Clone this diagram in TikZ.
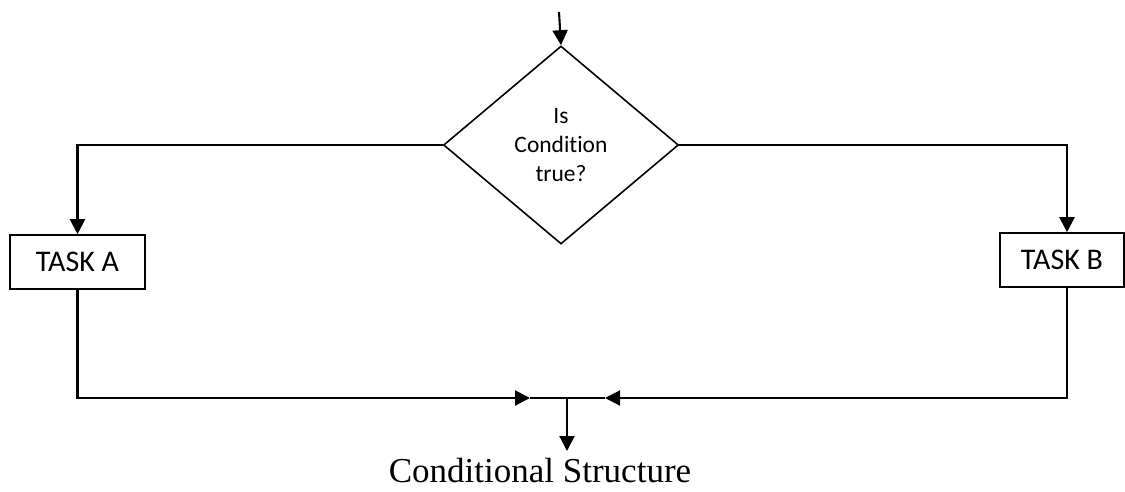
\documentclass[tikz,border=0pt]{standalone}
\usepackage{fontspec}
\setmainfont{Liberation Serif}
\newfontfamily\calibfont[RawFeature=-liga]{Carlito}
\usetikzlibrary{shapes.geometric,arrows.meta,calc}
\begin{document}
\begin{tikzpicture}[x=1pt,y=-1pt,
  conn/.style={line width=2.1pt},
  arr/.style={conn,-{Triangle[width=15pt,length=15pt]}},
  taskbox/.style={draw,line width=1.6pt,minimum height=54pt,inner sep=0pt,font=\calibfont\fontsize{30}{34}\selectfont},
  decision/.style={draw,diamond,line width=1.6pt,minimum width=235pt,minimum height=198pt,inner sep=0pt,align=center,font=\calibfont\fontsize{23.5}{29}\selectfont}]
\useasboundingbox (0,0) rectangle (1125,491);
\node[decision] (d) at (561,145) {Is\\Condition\\true?};
\node[taskbox,minimum width=135pt] (a) at (77.5,262) {TASK A};
\node[taskbox,minimum width=124pt] (b) at (1062,260) {TASK B};
\coordinate (top) at (559,12);
\coordinate (jl) at (530,398);
\coordinate (jr) at (605,398);
\coordinate (j) at (567,398);
\coordinate (out) at (567,451);
\draw[arr] (top) -- (d.north);
\draw[arr] (d.west) -| (a.north);
\draw[arr] (d.east) -| ([xshift=5pt]b.north);
\draw[arr] (a.south) |- (jl);
\draw[arr] ([xshift=5pt]b.south) |- (jr);
\draw[conn] (jl) -- (jr);
\draw[arr] (j) -- (out);
\node[inner sep=0pt,anchor=base,font=\fontsize{35}{40}\selectfont] (cap) at (540,482) {Conditional Structure};
\end{tikzpicture}
\end{document}
